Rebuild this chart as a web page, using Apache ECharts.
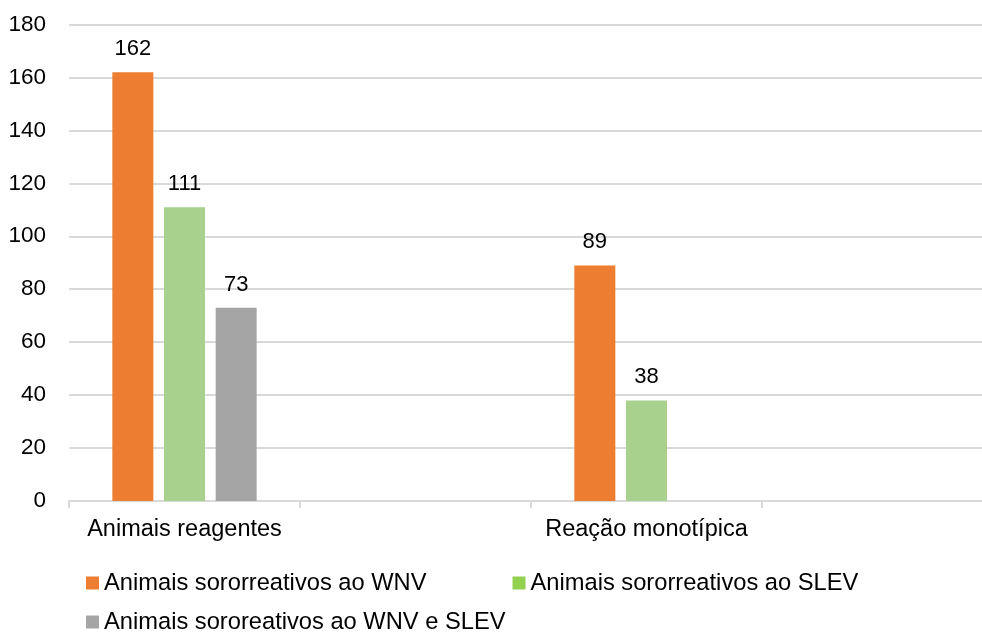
<!DOCTYPE html>
<html>
<head>
<meta charset="utf-8">
<script src="https://cdn.jsdelivr.net/npm/echarts@6/dist/echarts.min.js"></script>
<style>
  html, body { margin: 0; padding: 0; background: #ffffff; }
  #chart { width: 982px; height: 633px; }
</style>
</head>
<body>
<div id="chart"></div>
<script>
// Categories along the x axis (the two unnamed slots keep the original spacing)
const categories = ['Animais reagentes', '', 'Reação monotípica', ''];

// Series names
const nameWnv = 'Animais sororreativos ao WNV';
const nameSlev = 'Animais sororreativos ao SLEV';
const nameBoth = 'Animais sororeativos ao WNV e SLEV';

// Series values per category
const wnvValues = [162, null, 89, null];
const slevValues = [111, null, 38, null];
const bothValues = [73, null, null, null];

// Y axis range and tick step
const yMin = 0;
const yMax = 180;
const yStep = 20;

const FONT = '"Liberation Sans", Arial, sans-serif';

const chart = echarts.init(document.getElementById('chart'), null, { renderer: 'canvas' });

const labelStyle = {
  show: true,
  position: 'top',
  distance: 12,
  color: '#000000',
  fontFamily: FONT,
  fontSize: 22
};

function barSeries(name, data, color) {
  return {
    name: name,
    type: 'bar',
    data: data,
    barWidth: 41,
    barGap: '26%',
    itemStyle: { color: color },
    label: labelStyle,
    emphasis: { disabled: true }
  };
}

const legendText = { color: '#000000', fontFamily: FONT, fontSize: 23.7, lineHeight: 26 };

chart.setOption({
  animation: false,
  backgroundColor: '#ffffff',
  // the plot runs a little past the right edge of the canvas
  grid: { left: 69, top: 24.5, width: 924, bottom: 132, containLabel: false, outerBoundsMode: 'none' },
  xAxis: {
    type: 'category',
    data: categories,
    boundaryGap: true,
    axisLine: { show: true, lineStyle: { color: '#d9d9d9', width: 2 } },
    axisTick: { show: true, interval: 0, length: 7, lineStyle: { color: '#d9d9d9', width: 2 } },
    axisLabel: { interval: 0, color: '#000000', fontFamily: FONT, fontSize: 23.5, margin: 17 },
    splitLine: { show: false }
  },
  yAxis: {
    type: 'value',
    min: yMin,
    max: yMax,
    interval: yStep,
    axisLine: { show: false },
    axisTick: { show: false },
    axisLabel: { color: '#000000', fontFamily: FONT, fontSize: 22.5, margin: 23 },
    splitLine: { show: true, lineStyle: { color: '#d9d9d9', width: 2 } }
  },
  legend: [
    {
      left: 86,
      top: 570,
      padding: 0,
      orient: 'horizontal',
      itemWidth: 13,
      itemHeight: 13,
      itemGap: 86,
      icon: 'rect',
      textStyle: legendText,
      selectedMode: false,
      data: [
        { name: nameWnv, itemStyle: { color: '#ED7D31' } },
        { name: nameSlev, itemStyle: { color: '#92D050' } }
      ]
    },
    {
      left: 86,
      top: 609,
      padding: 0,
      orient: 'horizontal',
      itemWidth: 13,
      itemHeight: 13,
      icon: 'rect',
      textStyle: legendText,
      selectedMode: false,
      data: [
        { name: nameBoth, itemStyle: { color: '#A5A5A5' } }
      ]
    }
  ],
  series: [
    barSeries(nameWnv, wnvValues, '#ED7D31'),
    barSeries(nameSlev, slevValues, '#A9D18E'),
    barSeries(nameBoth, bothValues, '#A5A5A5')
  ]
});
</script>
</body>
</html>
